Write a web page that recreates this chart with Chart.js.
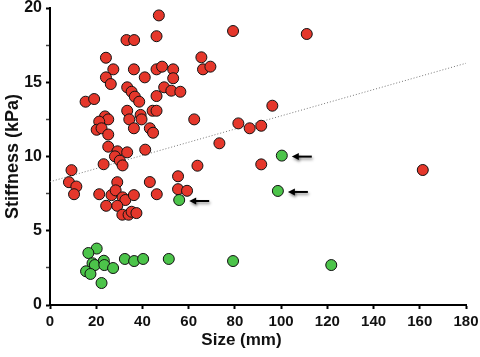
<!DOCTYPE html>
<html>
<head>
<meta charset="utf-8">
<script src="https://cdn.jsdelivr.net/npm/chart.js@4"></script>
<style>
  html, body { margin: 0; padding: 0; background: #fff; }
  #wrap { width: 480px; height: 357px; }
</style>
</head>
<body>
<div id="wrap"><canvas id="chart_stiffness"></canvas></div>
<script>
// red group
let redSize = [47.1, 33.1, 36.4, 46.1, 24.2, 27.4, 36.3, 41.0, 46.1, 48.5, 53.3, 53.3, 65.5, 66.2, 69.4,
    24.2, 26.3, 33.4, 35.3, 36.7, 38.6, 49.4, 52.5, 56.4, 46.1, 15.4, 19.1, 33.4, 44.4, 46.1,
    62.4, 73.3, 81.5, 23.8, 25.2, 21.3, 20.2, 22.3, 25.2, 34.3, 36.3, 39.2, 39.6, 43.2, 44.6,
    25.2, 29.2, 33.4, 28.1, 30.2, 31.4, 41.2, 23.2, 63.8, 9.3, 8.2, 11.4, 10.4, 29.1, 43.2,
    55.4, 55.4, 59.3, 46.2, 21.3, 26.6, 28.4, 31.4, 32.6, 36.3, 24.3, 29.1, 31.3, 34.0, 35.3,
    37.4, 86.4, 91.4, 96.2, 91.4, 161.3, 79.2, 111.1];
let redStiffness = [19.5, 17.84, 17.84, 18.1, 16.65, 15.87, 15.87, 15.33, 15.87, 16.05, 15.87, 15.27, 16.68, 15.87, 16.05,
    15.33, 14.88, 14.66, 14.36, 14.03, 13.69, 14.66, 14.43, 14.36, 14.07, 13.69, 13.87, 13.08, 13.08, 13.08,
    12.5, 10.89, 12.23, 12.7, 12.5, 12.35, 11.8, 11.9, 11.48, 12.5, 11.9, 12.8, 12.5, 11.9, 11.6,
    10.66, 10.35, 10.28, 10.01, 9.72, 9.4, 10.46, 9.48, 9.38, 9.08, 8.27, 7.98, 7.46, 8.27, 8.28,
    8.67, 7.8, 7.69, 7.46, 7.46, 7.4, 7.72, 7.25, 7.07, 7.4, 6.68, 6.68, 6.08, 6.08, 6.28,
    6.19, 11.9, 12.07, 13.42, 9.47, 9.09, 18.45, 18.25];

// green group
let greenSize = [55.9, 100.3, 98.6, 79.2, 121.7, 20.2, 16.6, 18.4, 19.4, 23.3, 23.5, 27.3, 15.6, 17.5, 22.3, 32.4, 36.4, 40.3, 51.4];
let greenStiffness = [7.07, 10.06, 7.68, 2.96, 2.69, 3.8, 3.5, 2.81, 2.69, 2.98, 2.69, 2.49, 2.27, 2.09, 1.48, 3.1, 2.96, 3.1, 3.1];
let greenArrows = [0, 1, 2]; // points marked with an arrow

// fitted line
let trendSize = [0, 180];
let trendStiffness = [8.3, 16.28];

let xTicks = [0, 20, 40, 60, 80, 100, 120, 140, 160, 180];
let yTicks = [0, 5, 10, 15, 20];

function toPoints(xs, ys) {
    return xs.map((x, i) => ({ x: x, y: ys[i] }));
}

// little arrows pointing at the marked green points
const arrowPlugin = {
    id: "arrows",
    afterDatasetsDraw(chart) {
        const ctx = chart.ctx;
        const xs = chart.scales.x, ys = chart.scales.y;
        greenArrows.forEach(i => {
            const px = xs.getPixelForValue(greenSize[i]);
            const py = ys.getPixelForValue(greenStiffness[i]) + 1;
            ctx.save();
            ctx.shadowColor = "rgba(0,0,0,0.45)";
            ctx.shadowBlur = 3;
            ctx.shadowOffsetX = 1;
            ctx.shadowOffsetY = 2;
            ctx.strokeStyle = "#000";
            ctx.fillStyle = "#000";
            ctx.lineWidth = 2;
            ctx.beginPath();
            ctx.moveTo(px + 15, py);
            ctx.lineTo(px + 30, py);
            ctx.stroke();
            ctx.beginPath();
            ctx.moveTo(px + 10, py);
            ctx.lineTo(px + 17, py - 3.5);
            ctx.lineTo(px + 17, py + 3.5);
            ctx.closePath();
            ctx.fill();
            ctx.restore();
        });
    }
};

const ctx_stiff = document.getElementById("chart_stiffness");

new Chart(ctx_stiff, {
    type: "scatter",
    data: {
        datasets: [{
            label: "green",
            data: toPoints(greenSize, greenStiffness),
            backgroundColor: "#4cc44a",
            borderColor: "#111",
            borderWidth: 1,
            pointRadius: 5.5,
            order: 0,
        }, {
            label: "red",
            data: toPoints(redSize, redStiffness),
            backgroundColor: "#e5372b",
            borderColor: "#111",
            borderWidth: 1,
            pointRadius: 5.5,
            order: 1,
        }, {
            label: "trend",
            type: "line",
            data: toPoints(trendSize, trendStiffness),
            borderColor: "#777",
            borderWidth: 1,
            borderDash: [1, 2],
            pointRadius: 0,
            fill: false,
            order: 2,
        }]
    },
    options: {
        responsive: true,
        maintainAspectRatio: false,
        animation: false,
        clip: false,
        layout: { padding: 0 },
        plugins: {
            legend: { display: false },
            tooltip: { enabled: false },
        },
        scales: {
            x: {
                type: "linear",
                min: 0,
                max: 180,
                afterFit: s => { s.height = 52; s.paddingRight = 14; },
                afterBuildTicks: s => { s.ticks = xTicks.map(v => ({ value: v })); },
                border: { color: "#000", width: 2 },
                grid: { drawOnChartArea: false, tickLength: 4, tickColor: "#000", tickWidth: 2 },
                ticks: {
                    color: "#111",
                    padding: 4,
                    maxRotation: 0,
                    font: { family: "Liberation Sans", size: 15, weight: "bold" },
                },
                title: {
                    display: true,
                    // trailing spaces shift the title a little left, as in the original
                    text: "Size (mm)\u00a0\u00a0\u00a0\u00a0\u00a0\u00a0\u00a0",
                    color: "#111",
                    font: { family: "Liberation Sans", size: 17, weight: "bold" },
                    padding: { top: 0, bottom: 6 },
                },
            },
            y: {
                type: "linear",
                min: 0,
                max: 20,
                afterFit: s => { s.width = 50; s.paddingTop = 8; },
                afterBuildTicks: s => {
                    let t = [];
                    for (let k = 0; k < yTicks.length; k++) {
                        t.push({ value: yTicks[k] });
                        if (k < yTicks.length - 1) t.push({ value: (yTicks[k] + yTicks[k + 1]) / 2 });
                    }
                    s.ticks = t;
                },
                border: { color: "#000", width: 2 },
                grid: {
                    drawOnChartArea: false,
                    tickLength: 4,
                    tickColor: c => (c.tick && yTicks.includes(c.tick.value) ? "#000" : "#444"),
                    tickWidth: c => (c.tick && yTicks.includes(c.tick.value) ? 2 : 1.5),
                },
                ticks: {
                    color: "#111",
                    padding: 4,
                    font: { family: "Liberation Sans", size: 16, weight: "bold" },
                    callback: v => (yTicks.includes(v) ? v : ""),
                },
                title: {
                    display: true,
                    text: "Stiffness (kPa)",
                    color: "#111",
                    font: { family: "Liberation Sans", size: 18, weight: "bold" },
                    padding: { top: 2, bottom: 0 },
                },
            },
        },
    },
    plugins: [arrowPlugin],
});
</script>
</body>
</html>
